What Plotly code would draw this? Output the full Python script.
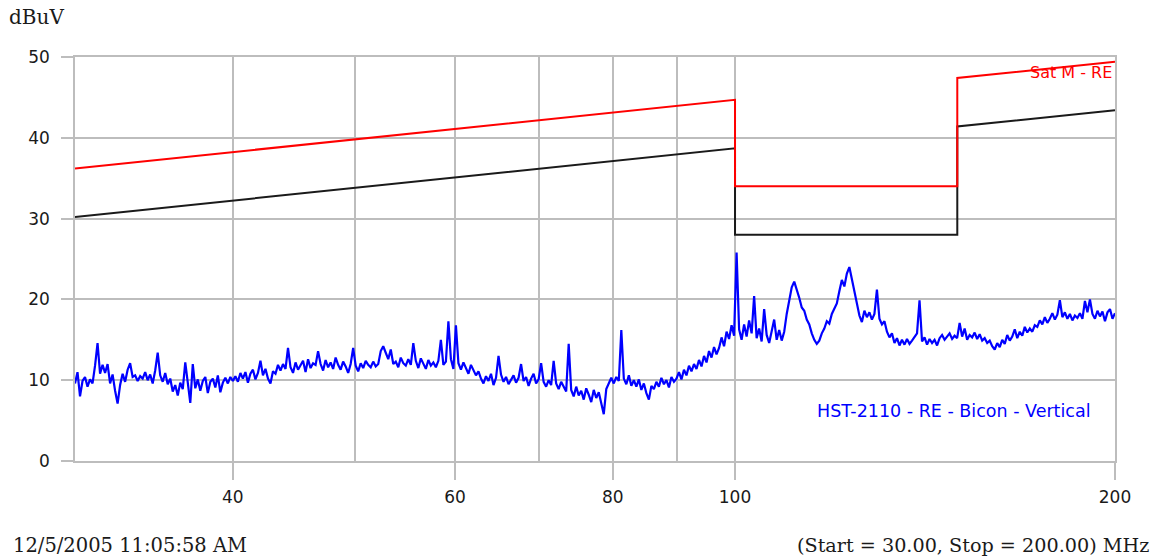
import numpy as np
import plotly.graph_objects as go

# Sweep settings (MHz)
START_MHZ = 30.0
STOP_MHZ = 200.0

# Measured level, dBuV, one row of 16 sweep points per line
level_dbuv = [
    9.6, 11.0, 8.0, 9.9, 10.4, 9.2, 10.1, 9.6, 11.8, 14.6, 10.8, 11.9, 10.9, 12.0, 9.6, 10.7,
    8.7, 7.1, 9.4, 10.8, 9.8, 11.3, 12.1, 10.4, 10.6, 9.9, 10.5, 10.2, 11.0, 10.0, 10.7, 9.6,
    11.2, 13.4, 10.6, 9.8, 10.9, 9.5, 10.2, 8.6, 9.4, 8.1, 9.7, 8.9, 12.2, 9.3, 7.2, 12.0,
    9.0, 10.1, 8.7, 9.9, 10.4, 8.4, 9.8, 10.2, 9.1, 10.6, 8.5, 9.7, 10.3, 9.6, 10.4, 9.9,
    10.5, 9.8, 10.9, 10.2, 11.0, 9.7, 10.8, 11.3, 10.1, 10.9, 12.4, 10.6, 11.4, 10.2, 9.6, 11.1,
    10.8, 11.9, 11.2, 12.0, 11.4, 14.0, 11.6, 10.9, 12.2, 11.3, 11.8, 12.4, 11.0, 12.6, 11.5, 12.1,
    11.9, 13.6, 12.0, 11.2, 12.5, 11.6, 12.2, 11.4, 12.8, 11.9, 11.3, 12.3, 11.7, 10.9, 12.0, 14.0,
    11.8, 11.1, 12.1, 11.5, 12.4, 11.9, 11.6, 12.3, 11.7, 12.0, 13.6, 14.2, 13.4, 12.6, 13.8, 12.0,
    12.3, 11.6, 12.8, 12.1, 11.8, 12.6, 11.9, 14.6, 12.4, 11.5, 12.7, 12.0, 11.4, 12.5, 11.8, 12.2,
    11.6, 12.4, 15.0, 11.9, 12.3, 17.3, 12.6, 11.4, 16.8, 12.1, 11.3, 12.2, 11.5, 10.8, 11.9, 11.2,
    10.6, 11.1, 10.2, 9.6, 10.5, 9.9, 10.8, 9.4, 10.3, 13.0, 10.7, 9.8, 10.4, 9.5, 10.1, 10.6,
    9.7, 10.3, 12.0, 9.9, 10.4, 9.3, 10.2, 10.8, 9.6, 10.1, 12.1, 9.8, 9.2, 10.0, 9.4, 12.4,
    9.6, 8.9, 9.8, 9.1, 8.6, 14.5, 8.8, 8.0, 9.2, 8.1, 8.7, 7.6, 9.0, 8.2, 7.3, 8.8,
    7.8, 8.5, 7.0, 5.8, 8.9, 9.7, 10.3, 9.6, 10.4, 9.9, 16.2, 10.2, 9.5, 10.6, 9.3, 10.0,
    9.2, 10.1, 8.8, 9.6, 8.4, 7.6, 9.3, 8.9, 9.8, 9.2, 10.3, 9.5, 10.0, 9.1, 10.4, 9.8,
    10.2, 11.0, 10.1, 11.3, 10.6, 11.8, 11.1, 12.0, 11.4, 12.5, 11.7, 13.0, 12.2, 13.6, 12.8, 14.1,
    13.2, 14.0, 15.3, 14.2, 16.0, 15.1, 16.8, 15.5, 25.8, 16.3, 15.0, 16.9, 15.4, 17.4, 15.8, 20.4,
    15.2, 16.4, 14.8, 18.8, 15.6, 14.6, 16.1, 17.5, 15.0, 16.2, 14.9, 16.0, 18.2, 20.1, 21.5, 22.2,
    21.3, 20.2, 19.0, 18.6, 17.5, 16.9, 15.8, 15.0, 14.5, 14.9, 15.8, 16.4, 17.3, 17.0, 18.2, 18.9,
    19.5, 21.0, 22.4, 21.6, 23.2, 24.0, 22.5, 20.8, 19.4, 18.0, 17.2, 18.6, 17.8, 18.4, 17.5, 18.2,
    21.2, 17.6, 16.9, 17.3, 16.0, 15.3, 15.8, 14.6, 15.2, 14.3, 15.0, 14.4, 15.1, 14.5, 14.9, 15.4,
    15.8, 19.9, 14.8, 15.3, 14.4, 15.1, 14.6, 15.0, 14.3, 15.2, 15.6, 15.0, 15.4, 15.8, 15.1, 15.5,
    15.2, 17.1, 15.4, 16.4, 15.0, 15.6, 15.3, 15.9, 15.1, 15.7, 14.9, 15.2, 14.6, 14.9, 14.2, 13.8,
    14.6, 14.1, 15.0, 14.5, 15.6, 14.9, 15.4, 16.3, 15.2, 16.0, 15.5, 16.6, 15.9, 16.4, 16.0, 16.8,
    16.6, 17.4, 16.9, 17.8, 17.1, 17.6, 18.3, 17.5, 18.1, 19.9, 17.8, 18.4, 17.6, 18.2, 17.4, 18.0,
    17.7, 18.3, 17.6, 19.8, 18.4, 20.0, 18.2, 17.6, 18.6, 17.9, 18.5, 17.3, 18.4, 18.8, 17.6, 18.3,
]

# Sweep frequencies: log-spaced points between start and stop
freq_mhz = np.geomspace(START_MHZ, STOP_MHZ, len(level_dbuv))

# Limit lines (MHz, dBuV)
limit_freq = [30, 100, 100, 150, 150, 200]
limit_red = [36.2, 44.7, 34.0, 34.0, 47.4, 49.4]
limit_black = [30.2, 38.7, 28.0, 28.0, 41.4, 43.4]

x_major = [40, 60, 80, 100, 200]
x_minor = [50, 70, 90]
y_ticks = [0, 10, 20, 30, 40, 50]

GRID = "#bdbdbd"
SANS = "DejaVu Sans"
SERIF = "DejaVu Serif"
TEXT = "#1a1a1a"

fig = go.Figure()
fig.add_trace(go.Scatter(x=limit_freq, y=limit_black, mode="lines",
                         line=dict(color="#1a1a1a", width=2), hoverinfo="skip"))
fig.add_trace(go.Scatter(x=limit_freq, y=limit_red, mode="lines",
                         line=dict(color="#ff0000", width=2), hoverinfo="skip"))
fig.add_trace(go.Scatter(x=freq_mhz, y=level_dbuv, mode="lines",
                         line=dict(color="#0000ff", width=2.2), hoverinfo="skip"))

fig.update_layout(
    width=1161, height=560,
    margin=dict(l=75, r=46, t=57, b=99),
    paper_bgcolor="white", plot_bgcolor="white",
    showlegend=False,
    font=dict(family=SANS, size=17, color=TEXT),
    xaxis=dict(
        type="log", range=[np.log10(START_MHZ), np.log10(STOP_MHZ)],
        tickmode="array", tickvals=x_major, ticktext=[str(v) for v in x_major],
        ticks="outside", ticklen=17, tickwidth=1.6, tickcolor=GRID,
        showgrid=True, gridcolor=GRID, gridwidth=1.6,
        minor=dict(tickmode="array", tickvals=x_minor, showgrid=True,
                   gridcolor=GRID, gridwidth=1.6, ticks=""),
        showline=True, linecolor=GRID, linewidth=1.6, mirror=True,
        zeroline=False, ticklabelstandoff=3,
        tickfont=dict(family=SANS, size=17, color=TEXT),
    ),
    yaxis=dict(
        range=[0, 50], tickmode="array", tickvals=y_ticks,
        ticks="outside", ticklen=12, tickwidth=1.6, tickcolor=GRID,
        showgrid=True, gridcolor=GRID, gridwidth=1.6,
        showline=True, linecolor=GRID, linewidth=1.6, mirror=True,
        zeroline=False, ticklabelstandoff=8,
        tickfont=dict(family=SANS, size=17, color=TEXT),
    ),
)

fig.add_annotation(text="dBuV", xref="paper", yref="paper",
                   x=(7 - 75) / 1040, y=(461 - 17) / 404,
                   xanchor="left", yanchor="middle", showarrow=False,
                   font=dict(family=SERIF, size=20, color=TEXT))
fig.add_annotation(text="Sat M - RE", xref="paper", yref="paper",
                   x=(1114 - 75) / 1040, y=(461 - 72) / 404,
                   xanchor="right", yanchor="middle", showarrow=False,
                   font=dict(family=SANS, size=16, color="#ff0000"))
fig.add_annotation(text="HST-2110 - RE - Bicon - Vertical", xref="paper", yref="paper",
                   x=(1093 - 75) / 1040, y=(461 - 411) / 404,
                   xanchor="right", yanchor="middle", showarrow=False,
                   font=dict(family=SANS, size=17.5, color="#0000ff"))
fig.add_annotation(text="12/5/2005 11:05:58 AM", xref="paper", yref="paper",
                   x=(11 - 75) / 1040, y=(461 - 545) / 404,
                   xanchor="left", yanchor="middle", showarrow=False,
                   font=dict(family=SERIF, size=19.5, color=TEXT))
fig.add_annotation(text="(Start = 30.00, Stop = 200.00) MHz", xref="paper", yref="paper",
                   x=(1151 - 75) / 1040, y=(461 - 545) / 404,
                   xanchor="right", yanchor="middle", showarrow=False,
                   font=dict(family=SERIF, size=19.2, color=TEXT))

fig.write_html("out.html")
